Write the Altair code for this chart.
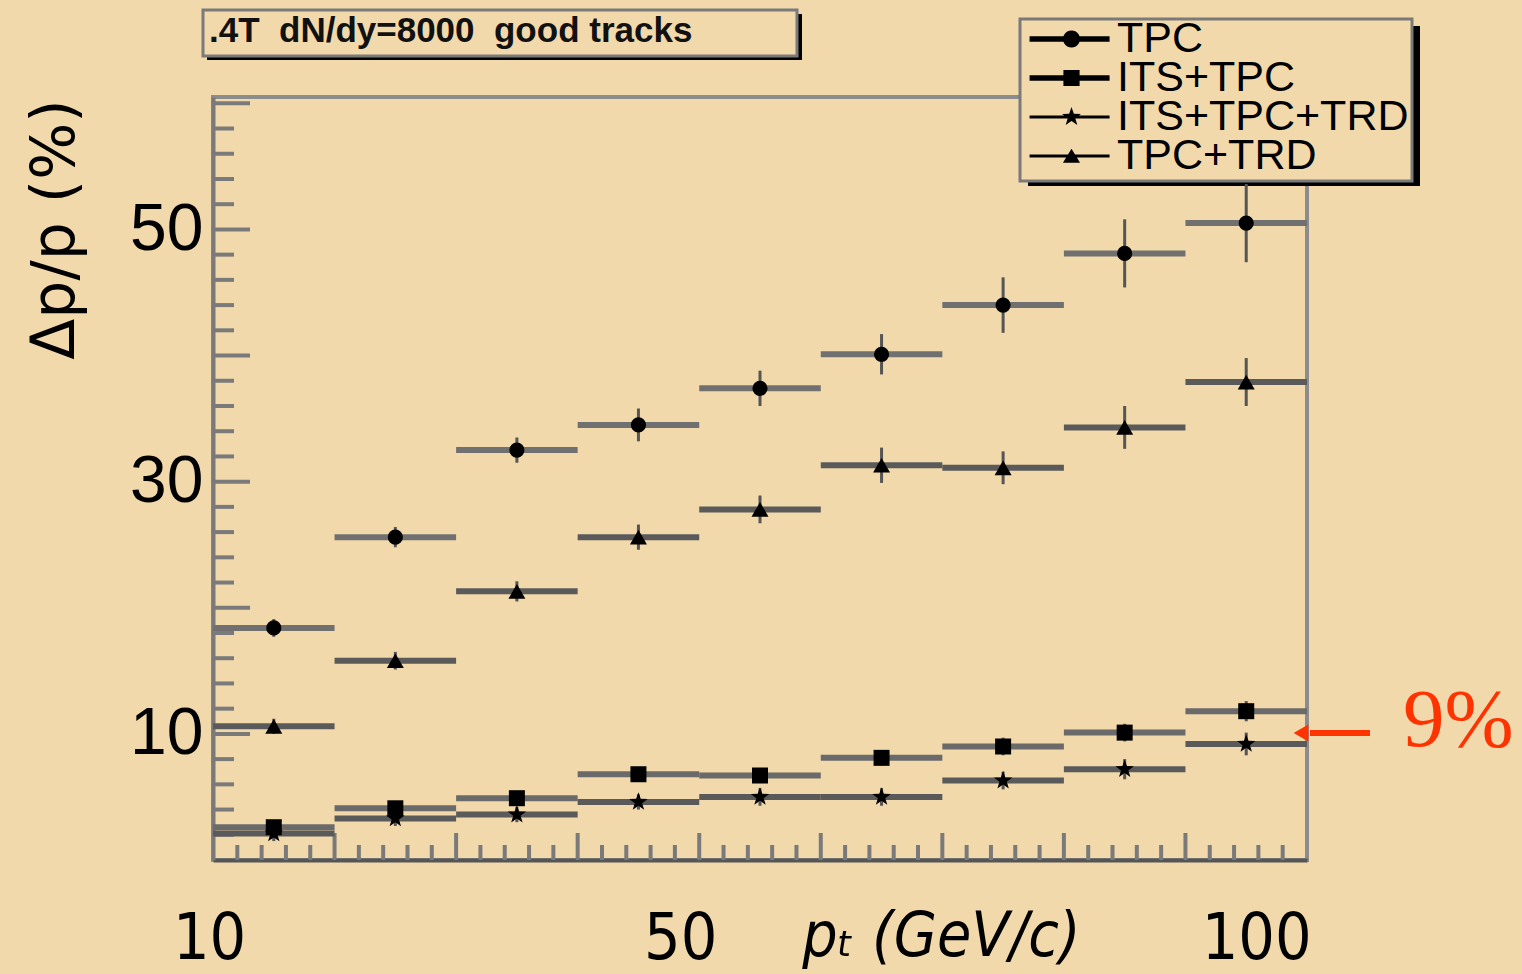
import math
import altair as alt
import pandas as pd

BG = "#F1D9AB"
RED = "#FF3300"

# ---------------- data ----------------
series = ["TPC", "ITS+TPC", "ITS+TPC+TRD", "TPC+TRD"]
pt_lo = [10, 20, 30, 40, 50, 60, 70, 80, 90]
pt_hi = [20, 30, 40, 50, 60, 70, 80, 90, 100]
pt_mid = [15, 25, 35, 45, 55, 65, 75, 85, 95]

tpc = [18.4, 25.6, 32.5, 34.5, 37.4, 40.1, 44.0, 48.1, 50.5]
tpc_err = [0.7, 0.8, 1.0, 1.3, 1.4, 1.6, 2.2, 2.7, 3.1]
its_tpc = [2.6, 4.1, 4.9, 6.8, 6.7, 8.1, 9.0, 10.1, 11.8]
its_tpc_err = [0.5, 0.5, 0.5, 0.5, 0.6, 0.6, 0.7, 0.7, 0.8]
its_tpc_trd = [2.1, 3.3, 3.6, 4.6, 5.0, 5.0, 6.3, 7.2, 9.2]
its_tpc_trd_err = [0.6, 0.6, 0.6, 0.6, 0.7, 0.7, 0.7, 0.8, 0.9]
tpc_trd = [10.6, 15.8, 21.3, 25.6, 27.8, 31.3, 31.1, 34.3, 37.9]
tpc_trd_err = [0.6, 0.7, 0.8, 1.0, 1.1, 1.4, 1.3, 1.7, 1.9]

x_tick_labels = [10, 50, 100]
y_tick_labels = [10, 30, 50]
x_major_ticks = [20, 30, 40, 50, 60, 70, 80, 90]
x_minor_ticks = [12, 14, 16, 18, 22, 24, 26, 28, 32, 34, 36, 38, 42, 44, 46, 48,
                 52, 54, 56, 58, 62, 64, 66, 68, 72, 74, 76, 78, 82, 84, 86, 88,
                 92, 94, 96, 98]
y_major_ticks = [10, 20, 30, 40, 50, 60]
y_minor_ticks = [2, 4, 6, 8, 12, 14, 16, 18, 22, 24, 26, 28, 32, 34, 36, 38,
                 42, 44, 46, 48, 52, 54, 56, 58]

header_text = ".4T\u00a0\u00a0dN/dy=8000\u00a0\u00a0good tracks"
annot_text = "9%"
x_title = "p\u209c (GeV/c)"
y_title = "\u0394p/p (%)"

values = {"TPC": (tpc, tpc_err), "ITS+TPC": (its_tpc, its_tpc_err),
          "ITS+TPC+TRD": (its_tpc_trd, its_tpc_trd_err), "TPC+TRD": (tpc_trd, tpc_trd_err)}
rows = []
for s in series:
    v, e = values[s]
    for lo, hi, mid, val, err in zip(pt_lo, pt_hi, pt_mid, v, e):
        rows.append(dict(series=s, lo=lo, hi=hi, mid=mid, val=val, ylo=val - err, yhi=val + err))
df = pd.DataFrame(rows)

# ---------------- styling helpers ----------------
W, H = 1094, 763
xs = alt.Scale(domain=[10, 100], nice=False, zero=False)
ys = alt.Scale(domain=[0, 60.5], nice=False, zero=False)

SANS = "Liberation Sans, Arial, sans-serif"
COND = "DejaVu Sans Condensed, Liberation Sans Narrow, DejaVu Sans, sans-serif"

xaxis = alt.Axis(values=x_tick_labels, ticks=False, tickSize=0, grid=False,
                 domainColor="#555555", domainWidth=4,
                 labelFont=COND, labelFontSize=64, labelColor="black",
                 labelBaseline="alphabetic", labelPadding=98,
                 labelAlign={"expr": "datum.value == 100 ? 'right' : 'center'"},
                 labelOffset={"expr": "datum.value == 50 ? -19 : (datum.value == 10 ? -4 : 4)"},
                 labelFlush=False, labelOverlap=False,
                 title=x_title, titleFont=COND, titleFontSize=62, titleFontStyle="italic",
                 titleFontWeight="normal", titleColor="black",
                 titleX=728, titleY=95, titleBaseline="alphabetic", titleAlign="center")
yaxis = alt.Axis(values=y_tick_labels, ticks=False, tickSize=0, grid=False,
                 domainColor="#7a7a7a", domainWidth=4,
                 labelFont=SANS, labelFontSize=66, labelColor="black",
                 labelPadding=10, labelBaseline="middle", labelFlush=False, labelOverlap=False,
                 title=y_title, titleFont="DejaVu Sans", titleFontSize=60,
                 titleFontWeight="normal", titleColor="black", titleAngle=-90,
                 titleX=-140, titleY=132, titleBaseline="alphabetic", titleAlign="center")


def X(f):
    return alt.X(f, type="quantitative", scale=xs, axis=xaxis)


def Y(f):
    return alt.Y(f, type="quantitative", scale=ys, axis=yaxis)


# star path (unit coords)
STAR = ("M0,-1L0.235,-0.324L0.951,-0.309L0.380,0.124L0.588,0.809L0,0.4L-0.588,0.809"
        "L-0.380,0.124L-0.951,-0.309L-0.235,-0.324Z")


def fmt(v):
    return ("%.3f" % v).rstrip("0").rstrip(".")


def legend_path(kind, a, b, m, t):
    bar = "M%s,%sH%sV%sH%sZ" % (fmt(a), fmt(-t), fmt(b), fmt(t), fmt(a))
    if kind == "circle":
        r = 0.95
        pts = [(m + r * math.cos(2 * math.pi * k / 24), r * math.sin(2 * math.pi * k / 24)) for k in range(24)]
    elif kind == "square":
        r = 0.9
        pts = [(m - r, -r), (m + r, -r), (m + r, r), (m - r, r)]
    elif kind == "star":
        R = 1.1
        base = [(0, -1), (0.235, -0.324), (0.951, -0.309), (0.380, 0.124), (0.588, 0.809), (0, 0.4),
                (-0.588, 0.809), (-0.380, 0.124), (-0.951, -0.309), (-0.235, -0.324)]
        pts = [(m + R * px, R * py) for px, py in base]
    else:
        r = 0.95
        pts = [(m, -0.85 * r), (m + r, 0.8 * r), (m - r, 0.8 * r)]
    poly = "M" + "L".join("%s,%s" % (fmt(px), fmt(py)) for px, py in pts) + "Z"
    return bar + poly


LA, LB, LM = -1.66, 7.23, 3.0
legend_paths = [legend_path("circle", LA, LB, LM, 0.3),
                legend_path("square", LA, LB, LM, 0.3),
                legend_path("star", LA, LB, LM, 0.17),
                legend_path("triangle", LA, LB, LM, 0.17)]

base = alt.Chart(df)

one = pd.DataFrame({"k": [0]})

# header box
header_shadow = alt.Chart(one).mark_rect(color="black").encode(
    x=alt.value(-6), x2=alt.value(589), y=alt.value(-83), y2=alt.value(-37))
header_box = alt.Chart(one).mark_rect(fill=BG, stroke="#7a7a7a", strokeWidth=3).encode(
    x=alt.value(-10), x2=alt.value(584), y=alt.value(-87), y2=alt.value(-41))
header = alt.Chart(pd.DataFrame({"t": [header_text]})).mark_text(
    font=SANS, fontSize=35, fontWeight="bold", color="#111111", align="left", baseline="alphabetic").encode(
    text="t:N", x=alt.value(-4), y=alt.value(-55))

legend_shadow = alt.Chart(one).mark_rect(color="black").encode(
    x=alt.value(815), x2=alt.value(1207), y=alt.value(-71), y2=alt.value(89))

# inward ticks
xmaj = alt.Chart(pd.DataFrame({"v": x_major_ticks})).mark_rule(color="#7a7a7a", strokeWidth=4).encode(
    x=X("v"), y=alt.value(H), y2=alt.value(H - 27))
xmin = alt.Chart(pd.DataFrame({"v": x_minor_ticks})).mark_rule(color="#7a7a7a", strokeWidth=4).encode(
    x=X("v"), y=alt.value(H), y2=alt.value(H - 15))
ymaj = alt.Chart(pd.DataFrame({"v": y_major_ticks})).mark_rule(color="#7a7a7a", strokeWidth=4).encode(
    y=Y("v"), x=alt.value(0), x2=alt.value(37))
ymin = alt.Chart(pd.DataFrame({"v": y_minor_ticks})).mark_rule(color="#7a7a7a", strokeWidth=4).encode(
    y=Y("v"), x=alt.value(0), x2=alt.value(21))

hbars = base.mark_rule().encode(
    x=X("lo"), x2="hi", y=Y("val"),
    color=alt.Color("series:N", scale=alt.Scale(domain=series,
                    range=["#707070", "#6a6a6a", "#5a5a5a", "#5a5a5a"]), legend=None),
    strokeWidth=alt.StrokeWidth("series:N", scale=alt.Scale(domain=series, range=[6, 6, 4, 4]), legend=None))
vbars = base.mark_rule(color="#555555", strokeWidth=3).encode(
    x=X("mid"), y=Y("ylo"), y2="yhi")
points = base.mark_point(filled=True, color="black", opacity=1).encode(
    x=X("mid"), y=Y("val"),
    shape=alt.Shape("series:N", scale=alt.Scale(domain=series,
                    range=["circle", "square", STAR, "triangle-up"]), legend=None),
    size=alt.Size("series:N", scale=alt.Scale(type="ordinal", domain=series, range=[230, 256, 376, 289]),
                  legend=None))

legend_driver = alt.Chart(pd.DataFrame({"series": series})).mark_point(
    filled=True, color="black", opacity=0).encode(
    shape=alt.Shape("series:N", scale=alt.Scale(domain=series, range=legend_paths),
                    legend=alt.Legend(title=None, orient="none", legendX=807, legendY=-78,
                                      fillColor=BG, strokeColor="#7a7a7a", padding=3,
                                      rowPadding=-12, clipHeight=34, symbolSize=324, symbolStrokeWidth=0,
                                      symbolFillColor="black", symbolOpacity=1,
                                      labelFont=SANS, labelFontSize=43, labelColor="black",
                                      labelOffset=51, labelLimit=500)))

arrow_line = alt.Chart(one).mark_rule(color=RED, strokeWidth=6).encode(
    x=alt.value(1097), x2=alt.value(1157), y=alt.value(636))
arrow_head = alt.Chart(one).mark_point(shape="triangle-left", filled=True, color=RED,
                                       size=289, opacity=1).encode(
    x=alt.value(1088), y=alt.value(636))
annot = alt.Chart(pd.DataFrame({"t": [annot_text]})).mark_text(
    font="Liberation Serif", fontSize=83, color=RED, align="left", baseline="alphabetic").encode(
    text="t:N", x=alt.value(1190), y=alt.value(649))

chart = alt.layer(
    header_shadow, header_box, header, legend_shadow,
    xmaj, xmin, ymaj, ymin, hbars, vbars, points,
    arrow_line, arrow_head, annot, legend_driver
).resolve_scale(shape="independent").properties(
    width=W, height=H, autosize="none",
    padding={"left": 213, "top": 97, "right": 1522 - 213 - W, "bottom": 974 - 97 - H},
    background=BG
).configure_view(stroke="#8c8c8c", strokeWidth=4).configure_legend(strokeWidth=3)

chart.save("out.html", embed_options={"renderer": "svg", "actions": False})
